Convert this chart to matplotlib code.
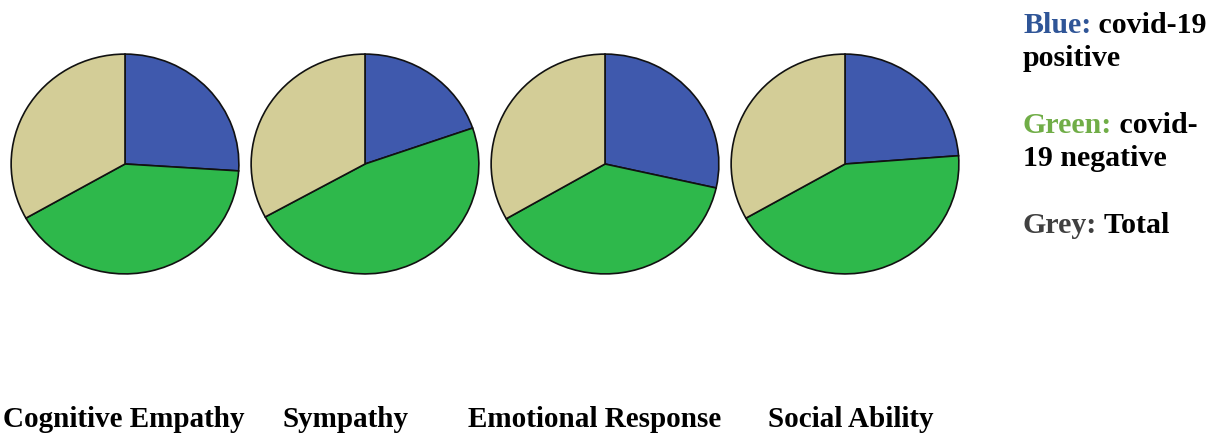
import matplotlib.pyplot as plt

# share of each group per empathy subscale (percent)
scales = ["Cognitive Empathy", "Sympathy", "Emotional Response", "Social Ability"]
positive = [26.0, 19.7, 28.5, 23.8]
negative = [40.8, 47.3, 38.2, 43.0]
total = [33.2, 33.0, 33.3, 33.2]

slice_colors = ["#3F59AD", "#2EB84B", "#D3CD97"]

W, H = 1216, 435
fig = plt.figure(figsize=(W / 100, H / 100), dpi=100)
fig.set_facecolor("white")

plt.rcParams["font.family"] = ["Liberation Serif", "DejaVu Serif"]
plt.rcParams["font.weight"] = "bold"

# one axes per pie, placed in pixel units
rx, ry = 115, 111
for i in range(len(scales)):
    cx, cy = 125 + 240 * i, 165
    ax = fig.add_axes([(cx - rx) / W, 1 - (cy + ry) / H, 2 * rx / W, 2 * ry / H])
    ax.pie([positive[i], negative[i], total[i]], colors=slice_colors,
           startangle=90, counterclock=False, radius=1,
           wedgeprops=dict(edgecolor="#111111", linewidth=1.2))
    ax.set_xlim(-1.01, 1.01)
    ax.set_ylim(-1.01, 1.01)
    ax.set_aspect("auto")
    ax.axis("off")

# text layer over the whole figure, pixel coords
tx = fig.add_axes([0, 0, 1, 1])
tx.set_xlim(0, W)
tx.set_ylim(H, 0)
tx.axis("off")

label_x = [3, 283, 468, 768]
for x, name in zip(label_x, scales):
    tx.text(x, 427, name, fontsize=21, fontweight="bold", va="baseline", ha="left")

fs = 21.5


def legend_line(y, head, head_color, rest):
    t = tx.text(1023, y, head, fontsize=fs, fontweight="bold", color=head_color,
                va="baseline", ha="left")
    if rest:
        tx.annotate(rest, xy=(1, 0), xycoords=t, fontsize=fs, fontweight="bold",
                    va="bottom", ha="left", color="black")


legend_line(33, "Blue:", "#2F5597", " covid-19")
legend_line(66, "positive", "black", "")
legend_line(133, "Green:", "#70AD47", " covid-")
legend_line(166, "19 negative", "black", "")
legend_line(233, "Grey:", "#404040", " Total")

fig.savefig("out.png", dpi=100, facecolor="white")
